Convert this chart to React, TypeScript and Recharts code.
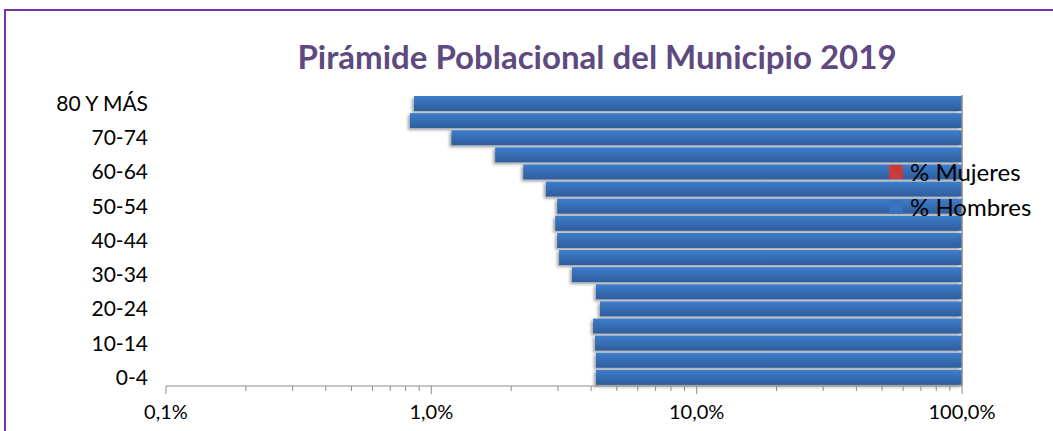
import { BarChart, Bar, XAxis, YAxis, ReferenceLine } from 'recharts'

// grupos de edad, de arriba hacia abajo
const grupos = [
  '80 Y MÁS', '75-79', '70-74', '65-69', '60-64', '55-59', '50-54', '45-49', '40-44',
  '35-39', '30-34', '25-29', '20-24', '15-19', '10-14', '5-9', '0-4',
]
// % Hombres (escala log)
const hombres = [
  0.86, 0.83, 1.19, 1.74, 2.22, 2.70, 2.98, 2.93, 2.98,
  3.03, 3.39, 4.17, 4.32, 4.07, 4.14, 4.17, 4.17,
]
const ticksMayores = [0.1, 1, 10, 100]
const ticksX = [
  0.1, 0.2, 0.3, 0.4, 0.5, 0.6, 0.7, 0.8, 0.9,
  1, 2, 3, 4, 5, 6, 7, 8, 9,
  10, 20, 30, 40, 50, 60, 70, 80, 90, 100,
]
const etiquetasX: Record<number, string> = { 0.1: '0,1%', 1: '1,0%', 10: '10,0%', 100: '100,0%' }
const series = ['% Mujeres', '% Hombres']
const coloresSerie = ['#c83b38', '#3a72bd']

const FONT = 'Lato, "Open Sans", sans-serif'

const data = grupos.map((g, i) => ({ grupo: g, hombres: hombres[i] }))

function TickX({ x, y, payload }: any) {
  const v = payload.value
  const mayor = ticksMayores.includes(v)
  return (
    <g>
      <line x1={x} x2={x} y1={y} y2={y + (mayor ? 8 : 5)} stroke="#8c8c8c" strokeWidth={1} />
      {mayor && (
        <text x={x} y={y + 33} textAnchor="middle" fill="#000" fontSize={20} fontFamily={FONT}>
          {etiquetasX[v]}
        </text>
      )}
    </g>
  )
}

function BarraHombres(p: any) {
  return (
    <rect x={p.x} y={p.y} width={p.width} height={p.height} fill="url(#gradHombres)" filter="url(#sombra)" />
  )
}

function Leyenda() {
  return (
    <div style={{ fontFamily: FONT, fontSize: 24, color: '#000' }}>
      {series.map((s, i) => (
        <div key={s} style={{ display: 'flex', alignItems: 'center', height: 35 }}>
          <span style={{ width: 14, height: 14, background: coloresSerie[i], display: 'inline-block', marginRight: 7 }} />
          <span>{s}</span>
        </div>
      ))}
    </div>
  )
}

export default function App() {
  return (
    <div style={{ position: 'absolute', left: 0, top: 0, width: 1053, height: 431, background: '#fff', overflow: 'hidden' }}>
      <div style={{
        position: 'absolute', left: 4, top: 9, width: 1100, height: 500,
        borderTop: '2px solid #7535a8', borderLeft: '2px solid #7535a8',
      }} />
      <div style={{
        position: 'absolute', left: 0, top: 36, width: 1194, textAlign: 'center',
        fontFamily: FONT, fontWeight: 700, fontSize: 33, color: '#5e4a7f', lineHeight: '40px',
      }}>
        Pirámide Poblacional del Municipio 2019
      </div>
      <div style={{ position: 'absolute', left: 0, top: 0 }}>
        <BarChart
          width={1053}
          height={431}
          data={data}
          layout="vertical"
          barCategoryGap={1}
          margin={{ top: 95, right: 91, bottom: 0, left: 0 }}
        >
          <defs>
            <linearGradient id="gradHombres" x1="0" y1="0" x2="0" y2="1">
              <stop offset="0%" stopColor="#3d7dcc" />
              <stop offset="100%" stopColor="#2e5d9b" />
            </linearGradient>
            <filter id="sombra" x="-5%" y="-30%" width="110%" height="170%">
              <feDropShadow dx={-2} dy={2} stdDeviation={1.5} floodColor="#000" floodOpacity={0.35} />
            </filter>
          </defs>
          <XAxis
            type="number"
            scale="log"
            domain={[0.1, 100]}
            allowDataOverflow
            ticks={ticksX}
            interval={0}
            height={45}
            tickSize={0}
            tickMargin={0}
            tickLine={false}
            axisLine={{ stroke: '#8c8c8c' }}
            tick={<TickX />}
          />
          <YAxis
            type="category"
            dataKey="grupo"
            width={166}
            interval={1}
            tickLine={false}
            axisLine={false}
            tickSize={6}
            tickMargin={12}
            tick={{ fill: '#000', fontSize: 21, fontFamily: FONT }}
          />
          <Bar
            dataKey={(d: any) => [d.hombres, 100]}
            name="% Hombres"
            shape={<BarraHombres />}
            isAnimationActive={false}
          />
          <ReferenceLine x={100} stroke="#8c8c8c" strokeWidth={1.5} />
        </BarChart>
      </div>
      <div style={{ position: 'absolute', left: 889, top: 154 }}>
        <Leyenda />
      </div>
    </div>
  )
}
